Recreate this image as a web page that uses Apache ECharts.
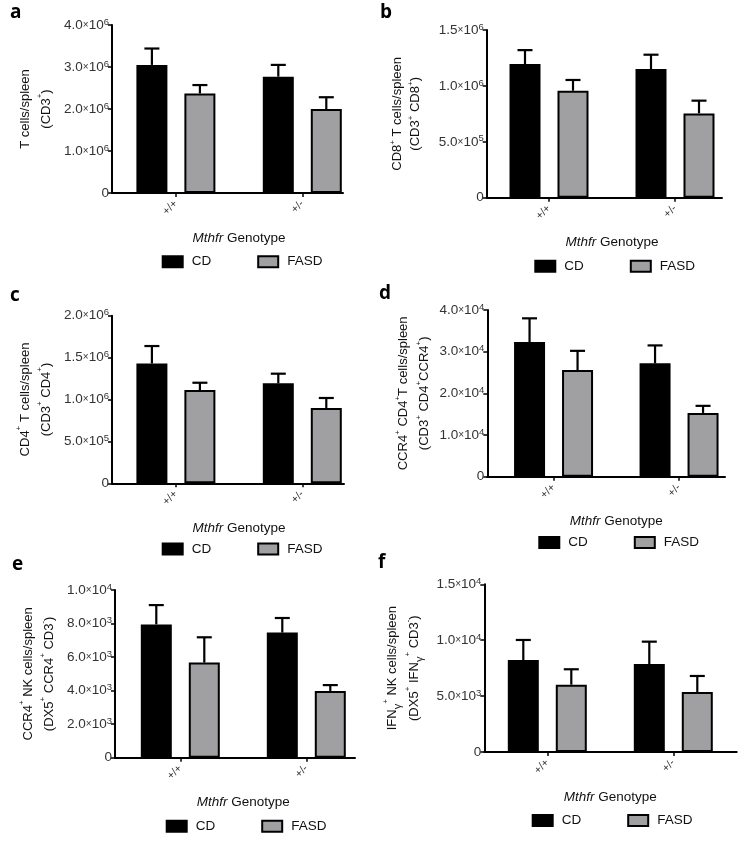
<!DOCTYPE html>
<html>
<head>
<meta charset="utf-8">
<script src="https://cdn.jsdelivr.net/npm/echarts@6/dist/echarts.min.js"></script>
<style>html,body{margin:0;padding:0;background:#fff}#c{width:750px;height:846px}</style>
</head>
<body>
<div id="c"></div>
<script>
// ---------- DATA ----------
const categories = ['+/+', '+/-'];
const groupNames = ['CD', 'FASD'];
const panelLetters = ['a', 'b', 'c', 'd', 'e', 'f'];

// a: T cells/spleen (CD3+)
const aCD = [3.05e6, 2.77e6];
const aCDsem = [0.39e6, 0.28e6];
const aFASD = [2.37e6, 2.00e6];
const aFASDsem = [0.20e6, 0.28e6];
// b: CD8+ T cells/spleen
const bCD = [1.196e6, 1.151e6];
const bCDsem = [0.124e6, 0.128e6];
const bFASD = [0.957e6, 0.754e6];
const bFASDsem = [0.096e6, 0.114e6];
// c: CD4+ T cells/spleen
const cCD = [1.43e6, 1.193e6];
const cCDsem = [0.208e6, 0.115e6];
const cFASD = [1.113e6, 0.899e6];
const cFASDsem = [0.087e6, 0.119e6];
// d: CCR4+ CD4+ T cells/spleen
const dCD = [3.23e4, 2.72e4];
const dCDsem = [0.57e4, 0.43e4];
const dFASD = [2.56e4, 1.53e4];
const dFASDsem = [0.46e4, 0.17e4];
// e: CCR4+ NK cells/spleen
const eCD = [7.95e3, 7.46e3];
const eCDsem = [1.15e3, 0.87e3];
const eFASD = [5.67e3, 3.98e3];
const eFASDsem = [1.51e3, 0.35e3];
// f: IFNg+ NK cells/spleen
const fCD = [8.23e3, 7.87e3];
const fCDsem = [1.79e3, 2.00e3];
const fFASD = [6.02e3, 5.37e3];
const fFASDsem = [1.38e3, 1.43e3];

// y-axis scales (max, interval)
const yMax = [4e6, 1.5e6, 2e6, 4e4, 1e4, 1.5e4];
const yInterval = [1e6, 5e5, 5e5, 1e4, 2e3, 5e3];

// axis titles
const yNames = [
  'T cells/spleen\n(CD3{s|+})',
  'CD8{s|+} T cells/spleen\n(CD3{s|+} CD8{s|+})',
  'CD4{s|+} T cells/spleen\n(CD3{s|+} CD4{s|+})',
  'CCR4{s|+} CD4{s|+}T cells/spleen\n(CD3{s|+} CD4{s|+}CCR4{s|+})',
  'CCR4{s|+} NK cells/spleen\n(DX5{s|+} CCR4{s|+} CD3{s|-})',
  'IFN{g|γ}{s|+} NK cells/spleen\n(DX5{s|+} IFN{g|γ}{s|+} CD3{s|-})'
];
const xName = '{i|Mthfr} Genotype';

const panelMeans = [[aCD, aFASD], [bCD, bFASD], [cCD, cFASD], [dCD, dFASD], [eCD, eFASD], [fCD, fFASD]];
const panelSems = [[aCDsem, aFASDsem], [bCDsem, bFASDsem], [cCDsem, cFASDsem], [dCDsem, dFASDsem], [eCDsem, eFASDsem], [fCDsem, fFASDsem]];

// ---------- LAYOUT / STYLE ----------
const layout = [
  {gl: 112.7, cw: 126.4, top: 25,    zero: 193,   ax: 112,   aend: 343,   lx: 161.7, ly: 261.7, ng: 55, lh: 21, lt: [10, 3]},
  {gl: 486,   cw: 126,   top: 30,    zero: 197.7, ax: 486.7, aend: 722,   lx: 534.3, ly: 266.3, ng: 62, lh: 18, lt: [380, 3]},
  {gl: 112.7, cw: 126.4, top: 315.7, zero: 483.3, ax: 112,   aend: 344,   lx: 161.7, ly: 549,   ng: 55, lh: 21, lt: [10, 286]},
  {gl: 490.8, cw: 125.5, top: 310,   zero: 476.7, ax: 487.3, aend: 725,   lx: 538.3, ly: 542.5, ng: 52, lh: 21, lt: [379, 284]},
  {gl: 117.3, cw: 126,   top: 590,   zero: 757.7, ax: 115,   aend: 355,   lx: 165.7, ly: 826.3, ng: 55, lh: 21, lt: [12, 555]},
  {gl: 484.3, cw: 126,   top: 584.3, zero: 752,   ax: 484.3, aend: 736.7, lx: 531.7, ly: 820.5, ng: 59, lh: 22, lt: [378, 553]}
];
const barW = 31, barGapPx = 17;
const grayFill = '#a0a0a3';
const fillColors = ['#000000', grayFill];
const FONT = 'Liberation Sans, Arial, sans-serif';

function yLabel(v) {
  if (v === 0) return '{n|0}';
  const e = Math.floor(Math.log10(v) + 1e-9);
  const m = (v / Math.pow(10, e)).toFixed(1);
  return '{n|' + m + '}{x|×}{n|10}{s|' + e + '}';
}

const grid = [], xAxis = [], yAxis = [], series = [], legend = [], title = [];
const off = (barW + barGapPx) / 2;

layout.forEach((L, p) => {
  grid.push({left: L.gl, width: L.cw * 2, top: L.top, height: L.zero - L.top, containLabel: false});
  grid.push({left: L.ax, width: L.aend - L.ax, top: L.zero - 10, height: 10, containLabel: false});
  const gi = p * 2;
  xAxis.push({
    gridIndex: gi, type: 'category', data: categories, boundaryGap: true,
    axisLine: {show: false},
    axisTick: {show: true, alignWithLabel: true, length: 4, lineStyle: {color: '#000', width: 1.5}},
    axisLabel: {rotate: 45, fontSize: 11, color: '#333', margin: 9, fontFamily: FONT, interval: 0},
    name: xName, nameLocation: 'middle', nameGap: 38,
    nameTextStyle: {fontSize: 13.5, color: '#111', fontFamily: FONT, rich: {i: {fontStyle: 'italic', fontSize: 13.5, color: '#111', fontFamily: FONT}}}
  });
  xAxis.push({
    gridIndex: gi + 1, type: 'value', min: 0, max: 1,
    axisLine: {show: true, lineStyle: {color: '#000', width: 2}},
    axisTick: {show: false}, axisLabel: {show: false}, splitLine: {show: false}
  });
  yAxis.push({
    gridIndex: gi, type: 'value', min: 0, max: yMax[p], interval: yInterval[p],
    offset: L.gl - L.ax,
    axisLine: {show: true, lineStyle: {color: '#000', width: 2}},
    axisTick: {show: true, length: 4, lineStyle: {color: '#000', width: 1.5}},
    splitLine: {show: false},
    axisLabel: {
      formatter: yLabel, margin: 3, color: '#333',
      rich: {
        n: {fontSize: 13.5, lineHeight: 16, color: '#333', fontFamily: FONT},
        x: {fontSize: 10, lineHeight: 16, color: '#333', fontFamily: FONT},
        s: {fontSize: 9.5, lineHeight: 10, verticalAlign: 'top', color: '#333', fontFamily: FONT}
      }
    },
    name: yNames[p], nameLocation: 'middle', nameGap: L.ng, nameRotate: 90,
    nameTextStyle: {
      fontSize: 13, lineHeight: L.lh, color: '#111', fontFamily: FONT, align: 'center',
      rich: {
        s: {fontSize: 8, lineHeight: 12, verticalAlign: 'top', color: '#111', fontFamily: FONT},
        g: {fontSize: 11, lineHeight: 14, verticalAlign: 'bottom', color: '#111', fontFamily: FONT}
      }
    }
  });
  yAxis.push({gridIndex: gi + 1, type: 'value', show: false, min: 0, max: 1});

  groupNames.forEach((g, k) => {
    series.push({
      type: 'bar', name: g, xAxisIndex: gi, yAxisIndex: gi,
      data: panelMeans[p][k], barWidth: barW, barGap: (barGapPx / barW * 100).toFixed(1) + '%',
      itemStyle: {color: fillColors[k], borderColor: '#000', borderWidth: 2},
      emphasis: {disabled: true}, animation: false, z: 2
    });
  });
  groupNames.forEach((g, k) => {
    const errData = categories.map((c, i) => [i, panelMeans[p][k][i], panelSems[p][k][i]]);
    const dx = k === 0 ? -off : off;
    series.push({
      type: 'custom', name: g + ' SEM', xAxisIndex: gi, yAxisIndex: gi, data: errData, z: 3,
      animation: false, silent: true,
      renderItem: function (params, api) {
        const b = api.coord([api.value(0), api.value(1)]);
        const t = api.coord([api.value(0), api.value(1) + api.value(2)]);
        const x = b[0] + dx;
        const style = {stroke: '#000', lineWidth: 2.2, fill: null};
        return {type: 'group', children: [
          {type: 'line', shape: {x1: x, y1: b[1], x2: x, y2: t[1]}, style: style},
          {type: 'line', shape: {x1: x - 7.5, y1: t[1], x2: x + 7.5, y2: t[1]}, style: style}
        ]};
      }
    });
  });

  legend.push({
    data: groupNames, left: L.lx, top: L.ly - 7, orient: 'horizontal', icon: 'rect', padding: 0,
    itemWidth: 20, itemHeight: 11, itemGap: 46, selectedMode: false,
    itemStyle: {borderColor: '#000', borderWidth: 2},
    textStyle: {fontSize: 13.5, color: '#111', fontFamily: FONT, padding: [0, 0, 0, 4]}
  });
  title.push({
    text: panelLetters[p], left: L.lt[0], top: L.lt[1], padding: 0,
    textStyle: {fontSize: 19, fontWeight: 'bold', color: '#000', fontFamily: 'Open Sans, Lato, sans-serif'}
  });
});

const chart = echarts.init(document.getElementById('c'), null, {renderer: 'canvas'});
chart.setOption({animation: false, backgroundColor: '#fff', title, grid, xAxis, yAxis, series, legend});
</script>
</body>
</html>
